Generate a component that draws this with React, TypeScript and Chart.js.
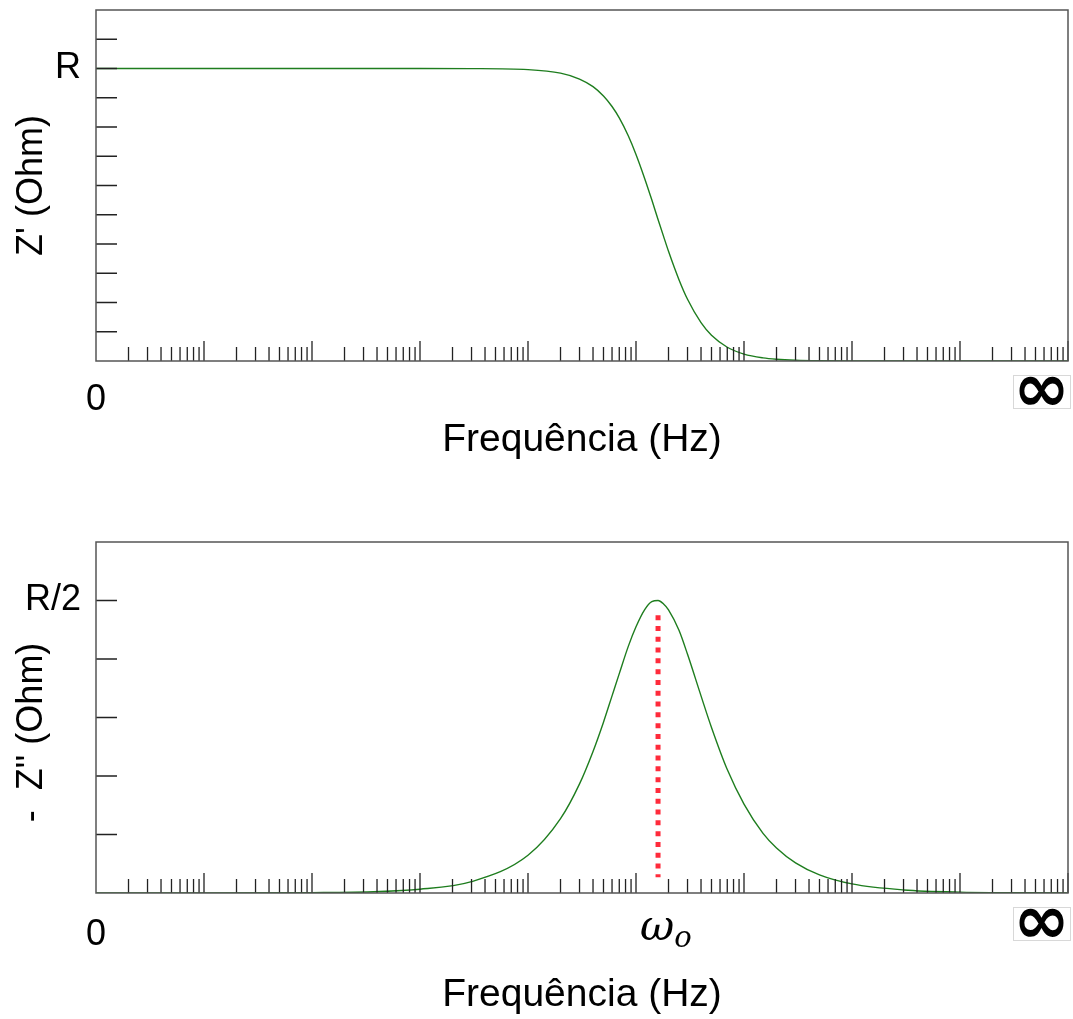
import React, { useEffect, useRef } from 'react';
import { Chart, registerables } from 'chart.js';

Chart.register(...registerables);
Chart.defaults.font.family = "'Liberation Sans', Arial, sans-serif";

// ---- data ----
const frequenciesHz = [1, 10, 100, 1e3, 3e3, 1e4, 2e4, 3e4, 4e4, 5e4, 6e4, 7e4, 8.5e4, 1e5, 1.2e5, 1.4e5, 1.6e5, 1.8e5, 2e5, 2.5e5, 3e5, 4e5, 5e5, 7e5, 1e6, 1.5e6, 2e6, 3e6, 5e6, 1e7, 3e7, 1e8, 1e9];
const realImpedance = [10, 10, 10, 10, 9.996, 9.96, 9.84, 9.64, 9.38, 9.06, 8.7, 8.31, 7.69, 7.06, 6.25, 5.51, 4.84, 4.26, 3.75, 2.78, 2.11, 1.31, 0.88, 0.47, 0.235, 0.106, 0.06, 0.027, 0.0096, 0.0024, 0.0003, 0, 0];
const negImagImpedance = [0, 0.0006, 0.006, 0.065, 0.194, 0.644, 1.27, 1.865, 2.42, 2.92, 3.37, 3.75, 4.22, 4.55, 4.84, 4.98, 5.0, 4.94, 4.84, 4.49, 4.08, 3.37, 2.83, 2.11, 1.52, 1.02, 0.77, 0.515, 0.31, 0.155, 0.052, 0.0155, 0.0015];

const omegaZeroHz = 1.6e5;
const markerLineValues = [4.75, 0.27];

const xMinHz = 1;
const xMaxHz = 1e9;
const decadeExponents = [0, 1, 2, 3, 4, 5, 6, 7, 8, 9];
const minorMultipliers = [2, 3, 4, 5, 6, 7, 8, 9];

const topYMax = 12;
const bottomYMax = 6;
const topYLabelValues = [10];
const topYLabelTexts = ['R'];
const bottomYLabelValues = [5];
const bottomYLabelTexts = ['R/2'];
const xStartLabel = '0';
const xEndLabel = '∞';
const omegaLabel = 'ω';
const omegaSubscript = 'o';

const topYTitle = "Z' (Ohm)";
const bottomYTitle = "-  Z'' (Ohm)   ";
const xTitle = 'Frequência (Hz)';

const GREEN = '#1e7d1e';
const RED = '#ff2b3b';

function makeOverlay(yMax: number, showOmega: boolean) {
  return {
    id: 'overlay' + (showOmega ? 'B' : 'A'),
    afterDraw(chart: any) {
      const { ctx, chartArea: a, scales } = chart;
      const xs = scales.x;
      const ys = scales.y;
      ctx.save();
      // tick marks (inward)
      ctx.strokeStyle = '#222';
      ctx.lineWidth = 1.3;
      ctx.beginPath();
      for (const e of decadeExponents) {
        const base = Math.pow(10, e);
        if (e > 0) {
          const px = xs.getPixelForValue(base);
          ctx.moveTo(px, a.bottom);
          ctx.lineTo(px, a.bottom - 20);
        }
        if (e < 9) {
          for (const m of minorMultipliers) {
            const px = xs.getPixelForValue(m * base);
            ctx.moveTo(px, a.bottom);
            ctx.lineTo(px, a.bottom - 14);
          }
        }
      }
      for (let v = 1; v < yMax; v++) {
        const py = ys.getPixelForValue(v);
        ctx.moveTo(a.left, py);
        ctx.lineTo(a.left + 21, py);
      }
      ctx.stroke();
      // frame
      ctx.strokeStyle = '#555';
      ctx.lineWidth = 1.5;
      ctx.strokeRect(a.left, a.top, a.right - a.left, a.bottom - a.top);
      // infinity box
      const bx = a.right - 55;
      const by = a.bottom + 14;
      const bw = 57;
      const bh = 33;
      ctx.fillStyle = '#fff';
      ctx.fillRect(bx, by, bw, bh);
      ctx.strokeStyle = '#d8d8d8';
      ctx.lineWidth = 1;
      ctx.strokeRect(bx + 0.5, by + 0.5, bw, bh);
      ctx.fillStyle = '#000';
      ctx.font = "bold 68px 'DejaVu Sans'";
      ctx.textAlign = 'center';
      ctx.textBaseline = 'middle';
      ctx.fillText(xEndLabel, bx + bw / 2, by + bh / 2 + 2);
      if (showOmega) {
        const ox = xs.getPixelForValue(omegaZeroHz);
        ctx.textBaseline = 'alphabetic';
        ctx.textAlign = 'left';
        ctx.font = "italic 42px 'DejaVu Serif'";
        const w = ctx.measureText(omegaLabel).width;
        const start = ox - 18;
        ctx.fillText(omegaLabel, start, a.bottom + 47);
        ctx.font = "italic 29px 'DejaVu Serif'";
        ctx.fillText(omegaSubscript, start + w, a.bottom + 54);
      }
      ctx.restore();
    },
  };
}

function buildConfig(opts: {
  series: number[];
  yMax: number;
  yLabelValues: number[];
  yLabelTexts: string[];
  yTitle: string;
  padTop: number;
  xHeight: number;
  titlePadBottom: number;
  tickPad: number;
  showMarker: boolean;
}) {
  const datasets: any[] = [];
  if (opts.showMarker) {
    datasets.push({
      data: markerLineValues.map((v) => ({ x: omegaZeroHz, y: v })),
      borderColor: RED,
      borderWidth: 5,
      borderDash: [5, 5.8],
      borderCapStyle: 'butt',
      pointRadius: 0,
      fill: false,
    });
  }
  datasets.push({
    data: frequenciesHz.map((f, i) => ({ x: f, y: opts.series[i] })),
    borderColor: GREEN,
    borderWidth: 1.4,
    pointRadius: 0,
    cubicInterpolationMode: 'monotone',
    fill: false,
  });
  return {
    type: 'line',
    data: { datasets },
    options: {
      animation: false,
      responsive: false,
      events: [],
      layout: { padding: { top: opts.padTop, right: 5, left: 0, bottom: 0 } },
      plugins: { legend: { display: false }, tooltip: { enabled: false } },
      scales: {
        x: {
          type: 'logarithmic',
          min: xMinHz,
          max: xMaxHz,
          grid: { display: false, drawTicks: false },
          border: { display: false },
          afterBuildTicks: (s: any) => {
            s.ticks = [{ value: xMinHz }];
          },
          ticks: {
            callback: (v: any) => (v === xMinHz ? xStartLabel : ''),
            font: { size: 36 },
            color: '#000',
            padding: opts.tickPad,
            maxRotation: 0,
            autoSkip: false,
          },
          title: {
            display: true,
            text: xTitle,
            font: { size: 39 },
            color: '#000',
            padding: { top: 0, bottom: opts.titlePadBottom },
          },
          afterFit: (s: any) => {
            s.height = opts.xHeight;
            s.paddingLeft = 0;
            s.paddingRight = 0;
          },
        },
        y: {
          type: 'linear',
          min: 0,
          max: opts.yMax,
          grid: { display: false, drawTicks: false },
          border: { display: false },
          afterBuildTicks: (s: any) => {
            s.ticks = opts.yLabelValues.map((v) => ({ value: v }));
          },
          ticks: {
            callback: (v: any) => {
              const i = opts.yLabelValues.indexOf(v);
              return i >= 0 ? opts.yLabelTexts[i] : '';
            },
            font: { size: 36 },
            color: '#000',
            padding: 15,
          },
          title: {
            display: true,
            text: opts.yTitle,
            font: { size: 36 },
            color: '#000',
            padding: { top: 10, bottom: 0 },
          },
          afterFit: (s: any) => {
            s.width = 96;
            s.paddingTop = 0;
            s.paddingBottom = 0;
          },
        },
      },
    },
    plugins: [makeOverlay(opts.yMax, opts.showMarker)],
  } as any;
}

export default function App() {
  const topRef = useRef<HTMLCanvasElement>(null);
  const bottomRef = useRef<HTMLCanvasElement>(null);

  useEffect(() => {
    const top = new Chart(
      topRef.current as HTMLCanvasElement,
      buildConfig({
        series: realImpedance,
        yMax: topYMax,
        yLabelValues: topYLabelValues,
        yLabelTexts: topYLabelTexts,
        yTitle: topYTitle,
        padTop: 10,
        xHeight: 109,
        titlePadBottom: 6,
        tickPad: 17,
        showMarker: false,
      })
    );
    const bottom = new Chart(
      bottomRef.current as HTMLCanvasElement,
      buildConfig({
        series: negImagImpedance,
        yMax: bottomYMax,
        yLabelValues: bottomYLabelValues,
        yLabelTexts: bottomYLabelTexts,
        yTitle: bottomYTitle,
        padTop: 72,
        xHeight: 126,
        titlePadBottom: 0,
        tickPad: 20,
        showMarker: true,
      })
    );
    return () => {
      top.destroy();
      bottom.destroy();
    };
  }, []);

  return (
    <div style={{ position: 'absolute', left: 0, top: 0, width: 1073, height: 1019, background: '#fff' }}>
      <canvas ref={topRef} width={1073} height={470} style={{ display: 'block', width: 1073, height: 470 }} />
      <canvas ref={bottomRef} width={1073} height={549} style={{ display: 'block', width: 1073, height: 549 }} />
    </div>
  );
}
